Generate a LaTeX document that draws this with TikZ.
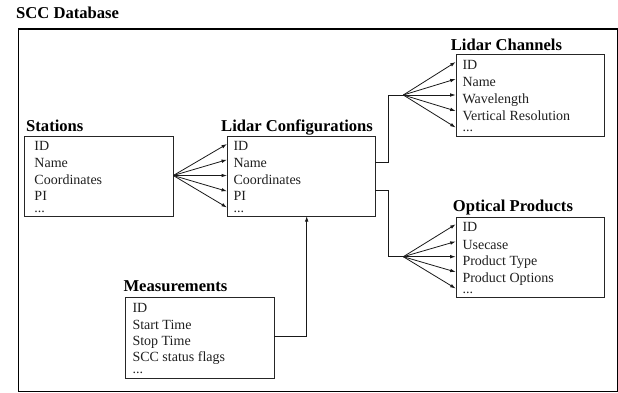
\documentclass[tikz,border=0pt]{standalone}
\usepackage{fontspec}
\setmainfont{Liberation Serif}
\usetikzlibrary{arrows.meta}
\begin{document}
\begin{tikzpicture}[x=1bp,y=-1bp,
  box/.style={draw=black!85, line width=0.9bp, inner sep=0pt, anchor=north west},
  hdr/.style={font=\fontsize{16.6bp}{18bp}\selectfont\bfseries, anchor=base west, inner sep=0pt},
  item/.style={font=\fontsize{14bp}{16bp}\selectfont, anchor=base west, inner sep=0pt, text=black!88},
  conn/.style={line width=0.8bp, draw=black!90},
  arr/.style={conn, -{Latex[length=5.5bp,width=3.6bp]}}]

\useasboundingbox (0,0) rectangle (618,392);

% outer frame
\node[draw, line width=1.8bp, inner sep=0pt, anchor=north west, minimum width=599bp, minimum height=362.5bp] (frame) at (17.5,28) {};
\node[hdr] (title) at (16,18) {SCC Database};

% boxes
\node[box, minimum width=149bp, minimum height=80bp] (st) at (24,136) {};
\node[box, minimum width=148bp, minimum height=80bp] (lc) at (227,136) {};
\node[box, minimum width=148.6bp, minimum height=81.4bp] (ch) at (455.7,54.3) {};
\node[box, minimum width=148.6bp, minimum height=80.6bp] (op) at (455.7,216.7) {};
\node[box, minimum width=148.7bp, minimum height=81bp] (ms) at (125.3,297.3) {};

% headers
\node[hdr] (sth) at (26,131) {Stations};
\node[hdr] (lch) at (221,131) {Lidar Configurations};
\node[hdr] (chh) at (450.7,50) {Lidar Channels};
\node[hdr] (oph) at (452.7,211.7) {Optical Products};
\node[hdr] (msh) at (123.3,291) {Measurements};

% items: Stations
\node[item] (st1) at (34.3,150.5) {ID};
\node[item] (st2) at (34.3,167.5) {Name};
\node[item] (st3) at (34.3,184.8) {Coordinates};
\node[item] (st4) at (34.3,200.8) {PI};
\node[item] (st5) at (34.3,212.5) {...};
% items: Lidar Configurations
\node[item] (lc1) at (233.3,150.5) {ID};
\node[item] (lc2) at (233.3,167.5) {Name};
\node[item] (lc3) at (233.3,184.8) {Coordinates};
\node[item] (lc4) at (233.3,200.8) {PI};
\node[item] (lc5) at (233.3,212.5) {...};
% items: Lidar Channels
\node[item] (ch1) at (462.3,69.3) {ID};
\node[item] (ch2) at (462.3,86) {Name};
\node[item] (ch3) at (462.3,103.3) {Wavelength};
\node[item] (ch4) at (462.3,120) {Vertical Resolution};
\node[item] (ch5) at (462.3,131.5) {...};
% items: Optical Products
\node[item] (op1) at (462.3,231.7) {ID};
\node[item] (op2) at (462.3,249) {Usecase};
\node[item] (op3) at (462.3,265.5) {Product Type};
\node[item] (op4) at (462.3,282.3) {Product Options};
\node[item] (op5) at (462.3,293.8) {...};
% items: Measurements
\node[item] (ms1) at (132.3,312.3) {ID};
\node[item] (ms2) at (132.3,329.3) {Start Time};
\node[item] (ms3) at (132.3,345.5) {Stop Time};
\node[item] (ms4) at (132.3,361.7) {SCC status flags};
\node[item] (ms5) at (132.3,373.5) {...};

% fan origins and tips
\coordinate (stfan) at (173.3,175.5);
\coordinate (lct1) at (227,144);
\coordinate (lct2) at (227,159.7);
\coordinate (lct3) at (227,175.5);
\coordinate (lct4) at (227,191.3);
\coordinate (lct5) at (227,207.5);

\coordinate (chfan) at (403.3,95);
\coordinate (cht1) at (455.7,62);
\coordinate (cht2) at (455.7,79);
\coordinate (cht3) at (455.7,95);
\coordinate (cht4) at (455.7,111);
\coordinate (cht5) at (455.7,127.5);

\coordinate (opfan) at (403.3,256.7);
\coordinate (opt1) at (455.7,224.3);
\coordinate (opt2) at (455.7,241.5);
\coordinate (opt3) at (455.7,256.7);
\coordinate (opt4) at (455.7,272);
\coordinate (opt5) at (455.7,288.5);

\foreach \i in {1,...,5} {
  \draw[arr] (stfan) -- (lct\i);
  \draw[arr] (chfan) -- (cht\i);
  \draw[arr] (opfan) -- (opt\i);
}

% connectors from Lidar Configurations
\coordinate (lcA) at (375,162.7);
\coordinate (lcB) at (375,190);
\coordinate (chbend) at (388.3,95);
\coordinate (opbend) at (388.3,256.7);
\draw[conn] (lcA) -| (chbend) -- (chfan);
\draw[conn] (lcB) -| (opbend) -- (opfan);

% Measurements to Lidar Configurations
\coordinate (msA) at (274,336.7);
\coordinate (lcC) at (306.7,216);
\draw[arr] (msA) -| (lcC);
\end{tikzpicture}
\end{document}
